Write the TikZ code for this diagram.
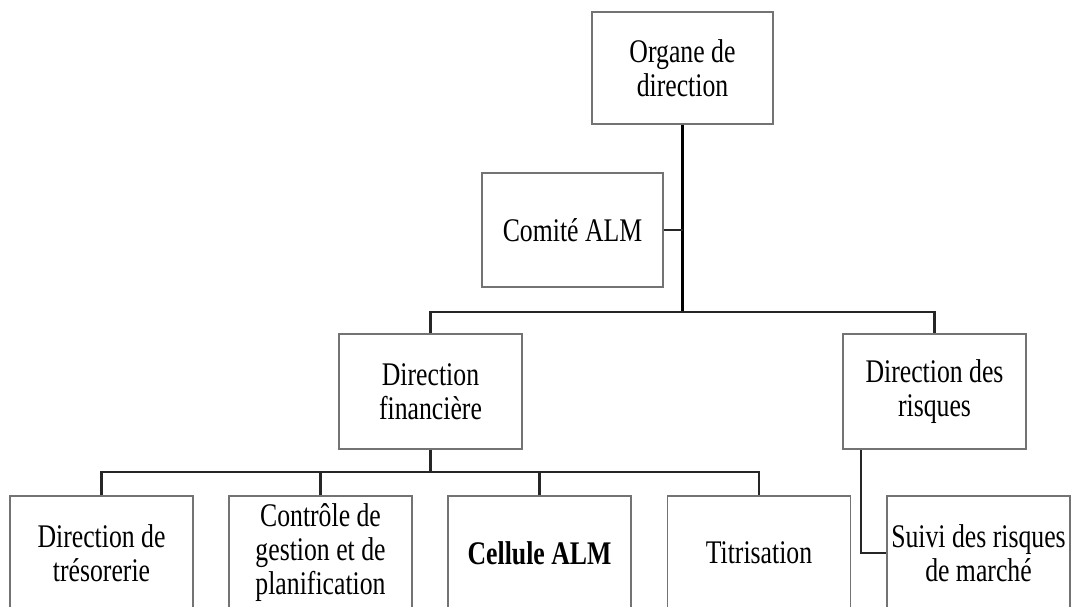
\documentclass[tikz,border=0pt]{standalone}
\usepackage{fontspec}
\setmainfont{Liberation Serif}[FakeStretch=0.78]
\begin{document}
\begin{tikzpicture}[x=1pt,y=-1pt,
  box/.style={draw=black!55, line width=1.4pt, inner sep=0pt, align=center,
    minimum width=183pt, minimum height=114pt, font=\fontsize{33}{34}\selectfont},
  conn/.style={draw=black!85, line width=2.3pt},
  trunk/.style={draw=black, line width=3pt}]
\useasboundingbox (0,0) rectangle (1072,607);
\clip (0,0) rectangle (1072,607);
\fill[white] (0,0) rectangle (1072,607);
\node[box, minimum width=181pt, minimum height=112pt] (org) at (682.5,68) {Organe de\\direction};
\node[box, minimum width=181pt] (com) at (572.5,230) {Comité ALM};
\node[box, minimum height=115pt] (fin) at (430.5,391.5) {Direction\\financière};
\node[box, minimum height=115pt] (ris) at (934.5,391.5) {Direction des\\risques};
\node[box] (tres) at (101.5,553) {Direction de\\trésorerie};
\node[box] (ctrl) at (320.5,553) {Contrôle de\\gestion et de\\planification};
\node[box] (cell) at (539.5,553) {\bfseries Cellule ALM};
\node[box] (titr) at (759,553) {Titrisation};
\node[box] (suivi) at (978.5,553) {Suivi des risques\\de marché};
\coordinate (bar1) at (682.5,312);
\coordinate (bar2) at (430.5,472);
\draw[trunk] (org.south) -- (bar1);
\draw[conn] (com.east) -- (com.east -| org.south);
\draw[conn] (fin.north) |- (bar1) -| (ris.north);
\draw[conn] (fin.south) -- (bar2);
\draw[conn] (tres.north) |- (bar2) -| (titr.north);
\draw[conn] (ctrl.north) -- (ctrl.north |- bar2);
\draw[conn] (cell.north) -- (cell.north |- bar2);
\draw[conn] ([xshift=19pt]ris.south west) |- (suivi.west);
\end{tikzpicture}
\end{document}
